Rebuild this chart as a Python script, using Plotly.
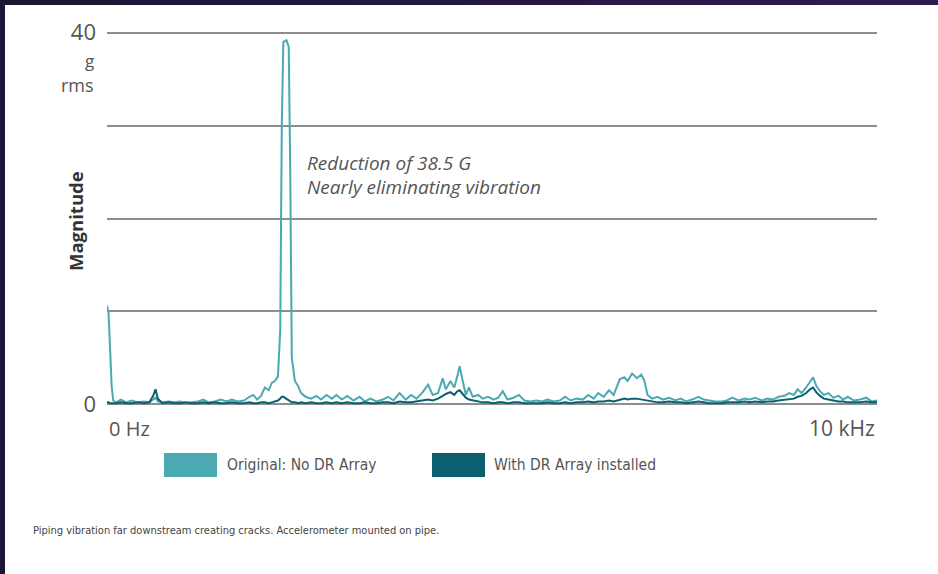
import plotly.graph_objects as go

# ---------------- data ----------------
freq_khz = [
    0.00, 0.02, 0.04, 0.06, 0.08, 0.12, 0.18, 0.25, 0.32, 0.40,
    0.48, 0.55, 0.60, 0.63, 0.66, 0.72, 0.80, 0.88, 0.95, 1.02,
    1.10, 1.18, 1.25, 1.32, 1.40, 1.48, 1.55, 1.62, 1.70, 1.78,
    1.85, 1.90, 1.95, 2.00, 2.05, 2.10, 2.14, 2.18, 2.22, 2.25,
    2.27, 2.29, 2.33, 2.36, 2.38, 2.40, 2.44, 2.48, 2.52, 2.58, 2.65, 2.72,
    2.78, 2.85, 2.92, 2.98, 3.05, 3.12, 3.20, 3.28, 3.35, 3.42,
    3.50, 3.58, 3.65, 3.72, 3.80, 3.88, 3.95, 4.02, 4.10, 4.17,
    4.23, 4.30, 4.36, 4.40, 4.46, 4.51, 4.55, 4.58, 4.62, 4.66,
    4.70, 4.75, 4.82, 4.88, 4.95, 5.02, 5.08, 5.14, 5.20, 5.28,
    5.35, 5.42, 5.50, 5.58, 5.65, 5.72, 5.80, 5.88, 5.95, 6.02,
    6.10, 6.18, 6.25, 6.32, 6.38, 6.45, 6.52, 6.58, 6.66, 6.72,
    6.76, 6.82, 6.88, 6.94, 6.98, 7.02, 7.08, 7.15, 7.22, 7.30,
    7.38, 7.45, 7.52, 7.60, 7.68, 7.75, 7.82, 7.90, 7.98, 8.05,
    8.12, 8.20, 8.28, 8.35, 8.42, 8.50, 8.58, 8.65, 8.72, 8.80,
    8.86, 8.92, 8.97, 9.02, 9.08, 9.13, 9.17, 9.21, 9.26, 9.31,
    9.37, 9.43, 9.50, 9.56, 9.62, 9.70, 9.78, 9.86, 9.93, 10.00,
]

original_g = [
    10.6, 9.8, 6.0, 2.0, 0.4, 0.2, 0.5, 0.2, 0.4, 0.2,
    0.3, 0.2, 0.5, 0.7, 0.3, 0.2, 0.3, 0.2, 0.3, 0.1,
    0.2, 0.3, 0.5, 0.2, 0.3, 0.5, 0.3, 0.5, 0.3, 0.4,
    0.8, 1.0, 0.5, 0.9, 1.8, 1.5, 2.3, 2.5, 3.0, 8.0,
    30.0, 39.0, 39.2, 38.5, 25.0, 5.0, 2.5, 2.0, 1.2, 0.8, 0.6, 0.9,
    0.5, 1.0, 0.6, 1.0, 0.5, 0.9, 0.4, 0.8, 0.3, 0.6,
    0.3, 0.5, 0.8, 0.4, 1.2, 0.5, 1.0, 0.6, 1.3, 2.1,
    1.0, 1.2, 2.8, 1.6, 2.5, 1.8, 3.0, 4.1, 2.5, 1.0,
    1.8, 0.8, 1.0, 0.6, 0.8, 0.5, 0.7, 1.4, 0.5, 0.7,
    1.0, 0.4, 0.3, 0.4, 0.3, 0.5, 0.3, 0.4, 0.8, 0.4,
    0.6, 0.5, 1.0, 0.6, 1.2, 0.8, 1.5, 1.0, 2.7, 2.9,
    2.5, 3.3, 2.8, 3.2, 2.5, 1.0, 0.6, 0.8, 0.5, 0.7,
    0.4, 0.6, 0.3, 0.5, 0.8, 0.5, 0.4, 0.3, 0.3, 0.4,
    0.7, 0.4, 0.6, 0.5, 0.7, 0.4, 0.6, 0.5, 0.8, 0.9,
    1.2, 1.0, 1.6, 1.2, 1.8, 2.4, 2.9, 2.0, 1.4, 1.0,
    1.2, 0.7, 0.9, 0.5, 0.8, 0.4, 0.5, 0.7, 0.3, 0.4,
]

with_dr_g = [
    0.2, 0.2, 0.1, 0.1, 0.1, 0.1, 0.2, 0.1, 0.1, 0.2,
    0.1, 0.2, 0.9, 1.6, 0.6, 0.1, 0.2, 0.1, 0.1, 0.2,
    0.1, 0.1, 0.2, 0.1, 0.2, 0.1, 0.1, 0.2, 0.1, 0.1,
    0.2, 0.1, 0.1, 0.2, 0.2, 0.1, 0.2, 0.3, 0.4, 0.6,
    0.8, 0.8, 0.6, 0.4, 0.3, 0.2, 0.2, 0.1, 0.2, 0.1, 0.2, 0.1,
    0.1, 0.2, 0.1, 0.2, 0.1, 0.2, 0.1, 0.1, 0.2, 0.1,
    0.1, 0.2, 0.2, 0.1, 0.3, 0.2, 0.2, 0.3, 0.4, 0.5,
    0.4, 0.6, 0.9, 1.1, 1.3, 1.0, 1.4, 1.5, 1.1, 0.7,
    0.5, 0.4, 0.3, 0.2, 0.2, 0.1, 0.2, 0.2, 0.1, 0.2,
    0.2, 0.1, 0.1, 0.1, 0.1, 0.2, 0.1, 0.1, 0.2, 0.1,
    0.2, 0.2, 0.3, 0.2, 0.3, 0.3, 0.4, 0.3, 0.5, 0.6,
    0.5, 0.6, 0.6, 0.5, 0.5, 0.4, 0.3, 0.2, 0.2, 0.3,
    0.2, 0.2, 0.1, 0.2, 0.3, 0.2, 0.1, 0.1, 0.1, 0.2,
    0.2, 0.2, 0.3, 0.2, 0.3, 0.2, 0.3, 0.3, 0.4, 0.5,
    0.6, 0.6, 0.8, 0.9, 1.2, 1.6, 1.8, 1.3, 0.9, 0.6,
    0.5, 0.4, 0.3, 0.3, 0.2, 0.2, 0.2, 0.3, 0.2, 0.2,
]

series_names = ["Original: No DR Array", "With DR Array installed"]
y_tick_vals = [0, 10, 20, 30, 40]
y_tick_text = ["0", "", "", "", "40"]
x_end_labels = ["0 Hz", "10 kHz"]
note_lines = ["Reduction of 38.5 G", "Nearly eliminating vibration"]
caption = "Piping vibration far downstream creating cracks. Accelerometer mounted on pipe."

# ---------------- styling ----------------
W, H = 938, 574
L, R, T, B = 107, 61, 30, 167
PW, PH = W - L - R, H - T - B

def px(x):
    return (x - L) / PW

def py(y):
    return (H - B - y) / PH

LIGHT = "#4aa9b1"
DARK = "#0b5f6f"
NARROW = "DejaVu Sans Condensed, sans-serif"
REG = "Open Sans, Lato, sans-serif"

fig = go.Figure()
fig.add_trace(go.Scatter(x=freq_khz, y=original_g, mode="lines", name=series_names[0],
                         line=dict(color=LIGHT, width=2), showlegend=False, hoverinfo="skip"))
fig.add_trace(go.Scatter(x=freq_khz, y=with_dr_g, mode="lines", name=series_names[1],
                         line=dict(color=DARK, width=2), showlegend=False, hoverinfo="skip"))

shapes = []
# white card with a dark frame on the top (gradient) and left
shapes.append(dict(type="rect", xref="paper", yref="paper", x0=px(5), x1=px(W + 5),
                   y0=py(H + 5), y1=py(5), fillcolor="white", line_width=0, layer="below"))
top_cols = ["#1b1633", "#1d1737", "#20183b", "#22183f", "#251943", "#271a47", "#2a1a4b", "#2c1b4f"]
seg = W / len(top_cols)
for i, c in enumerate(top_cols):
    shapes.append(dict(type="rect", xref="paper", yref="paper", x0=px(i * seg), x1=px((i + 1) * seg + 1),
                       y0=py(5), y1=py(-5), fillcolor=c, line_width=0, layer="below"))

# legend swatches
shapes.append(dict(type="rect", xref="paper", yref="paper", x0=px(164), x1=px(217),
                   y0=py(477), y1=py(453), fillcolor=LIGHT, line_width=0))
shapes.append(dict(type="rect", xref="paper", yref="paper", x0=px(432), x1=px(485),
                   y0=py(477), y1=py(453), fillcolor=DARK, line_width=0))

ann = []
ann.append(dict(xref="paper", yref="paper", x=px(96), y=py(60), text="g", showarrow=False,
                xanchor="right", yanchor="middle", font=dict(family=REG, size=17, color="#555")))
ann.append(dict(xref="paper", yref="paper", x=px(96), y=py(85), text="rms", showarrow=False,
                xanchor="right", yanchor="middle", font=dict(family=REG, size=18, color="#555")))
ann.append(dict(xref="paper", yref="paper", x=px(76), y=py(221), text="<b>Magnitude</b>", showarrow=False,
                textangle=-90, xanchor="center", yanchor="middle",
                font=dict(family=REG, size=18.5, color="#333")))
ann.append(dict(xref="x", yref="paper", x=0, y=py(428), text=x_end_labels[0], showarrow=False,
                xanchor="left", yanchor="middle", font=dict(family=REG, size=20, color="#555")))
ann.append(dict(xref="x", yref="paper", x=10, y=py(428), text=x_end_labels[1], showarrow=False,
                xanchor="right", yanchor="middle", font=dict(family=REG, size=21, color="#555")))
ann.append(dict(xref="paper", yref="paper", x=px(305), y=py(163), text="<i>" + note_lines[0] + "</i>",
                showarrow=False, xanchor="left", yanchor="middle",
                font=dict(family=REG, size=19, color="#555")))
ann.append(dict(xref="paper", yref="paper", x=px(305), y=py(187), text="<i>" + note_lines[1] + "</i>",
                showarrow=False, xanchor="left", yanchor="middle",
                font=dict(family=REG, size=19, color="#555")))
ann.append(dict(xref="paper", yref="paper", x=px(225), y=py(465), text=series_names[0], showarrow=False,
                xanchor="left", yanchor="middle", font=dict(family=NARROW, size=15.5, color="#555")))
ann.append(dict(xref="paper", yref="paper", x=px(492), y=py(465), text=series_names[1], showarrow=False,
                xanchor="left", yanchor="middle", font=dict(family=NARROW, size=15.5, color="#555")))
ann.append(dict(xref="paper", yref="paper", x=px(31), y=py(530), text=caption, showarrow=False,
                xanchor="left", yanchor="middle", font=dict(family=NARROW, size=11, color="#444")))

fig.update_layout(
    width=W, height=H,
    margin=dict(l=L, r=R, t=T, b=B, pad=0),
    paper_bgcolor="#1c1535",
    plot_bgcolor="white",
    shapes=shapes,
    annotations=ann,
    hovermode=False,
    xaxis=dict(range=[0, 10], showgrid=False, zeroline=False, showticklabels=False,
               showline=False, ticks="", fixedrange=True),
    yaxis=dict(range=[-0.3, 40.3], tickvals=y_tick_vals, ticktext=y_tick_text, showgrid=True,
               gridcolor="#8e8e8e", gridwidth=2, zeroline=False, showline=False, ticks="",
               ticklabelstandoff=10, tickfont=dict(family=REG, size=22, color="#555"),
               fixedrange=True),
)

fig.write_html(
    "out.html",
    config={"displayModeBar": False, "staticPlot": True},
    post_script="document.body.style.margin='0';document.body.style.overflow='hidden';",
)
